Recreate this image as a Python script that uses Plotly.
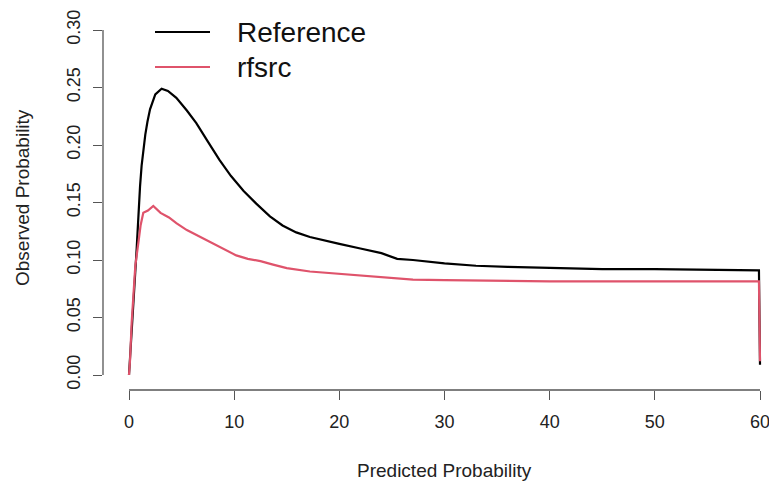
import plotly.graph_objects as go

# ---- data ----
ref_x = [0, 0.3, 0.5, 0.73, 0.88, 1.05, 1.2, 1.36, 1.55, 1.75, 2.0, 2.5, 3.1, 3.7, 4.5, 5.5,
         6.4, 7.5, 8.6, 9.7, 10.9, 12.1, 13.4, 14.6, 15.9, 17.2, 18.5, 20, 22, 24, 25.5, 27,
         30, 33, 36, 40, 45, 50, 55, 59.9, 60]
ref_y = [0, 0.04, 0.075, 0.11, 0.140, 0.164, 0.182, 0.196, 0.209, 0.220, 0.231, 0.244, 0.249,
         0.247, 0.241, 0.230, 0.219, 0.203, 0.187, 0.173, 0.160, 0.149, 0.138, 0.130, 0.124,
         0.120, 0.117, 0.114, 0.110, 0.106, 0.101, 0.100, 0.097, 0.095, 0.094, 0.093, 0.092,
         0.092, 0.0915, 0.091, 0.009]

rf_x = [0, 0.1, 0.25, 0.41, 0.6, 0.89, 1.1, 1.36, 1.8, 2.31, 3.0, 3.8, 4.5, 5.5, 6.6, 7.7, 9.0,
        10.2, 11.3, 12.5, 13.7, 15, 17.2, 20, 23, 25, 27, 30, 35, 40, 50, 59.9, 60]
rf_y = [0, 0.013, 0.045, 0.071, 0.095, 0.115, 0.130, 0.141, 0.143, 0.147, 0.141, 0.137, 0.132,
        0.126, 0.121, 0.116, 0.110, 0.104, 0.101, 0.099, 0.096, 0.093, 0.090, 0.088, 0.086,
        0.085, 0.083, 0.0825, 0.082, 0.0815, 0.0815, 0.0815, 0.012]

series_names = ["Reference", "rfsrc"]
series_colors = ["#000000", "#DF536B"]

x_ticks = [0, 10, 20, 30, 40, 50, 60]
y_ticks = [0.00, 0.05, 0.10, 0.15, 0.20, 0.25, 0.30]
y_tick_text = ["0.00", "0.05", "0.10", "0.15", "0.20", "0.25", "0.30"]

x_title = "Predicted Probability"
y_title = "Observed Probability"

# ---- layout geometry (pixels) ----
W, H = 769, 481
L, R, T, B = 103, 0, 15, 91
pw, ph = W - L - R, H - T - B


def px_to_paper_x(px):
    return (px - L) / pw


def py_to_paper_y(py):
    return (H - B - py) / ph


FONT = "Liberation Sans, Arial, Helvetica, sans-serif"
AXIS_COL = "#555555"

fig = go.Figure()
fig.add_trace(go.Scatter(x=ref_x, y=ref_y, mode="lines", name=series_names[0],
                         line=dict(color=series_colors[0], width=2.2), showlegend=False))
fig.add_trace(go.Scatter(x=rf_x, y=rf_y, mode="lines", name=series_names[1],
                         line=dict(color=series_colors[1], width=2.2), showlegend=False))

# R-style axis lines spanning first to last tick
fig.add_shape(type="line", xref="x", yref="paper", x0=x_ticks[0], x1=x_ticks[-1], y0=0, y1=0,
              line=dict(color=AXIS_COL, width=1.3))
fig.add_shape(type="line", xref="paper", yref="y", x0=0, x1=0, y0=y_ticks[0], y1=y_ticks[-1],
              line=dict(color=AXIS_COL, width=1.3))

# legend drawn R-style
leg_y = [32, 67]
for name, col, yy in zip(series_names, series_colors, leg_y):
    fig.add_shape(type="line", xref="paper", yref="paper",
                  x0=px_to_paper_x(155), x1=px_to_paper_x(210),
                  y0=py_to_paper_y(yy), y1=py_to_paper_y(yy),
                  line=dict(color=col, width=2.2))
    fig.add_annotation(xref="paper", yref="paper", x=px_to_paper_x(235), y=py_to_paper_y(yy),
                       xanchor="left", yanchor="middle", text=name, showarrow=False,
                       font=dict(family=FONT, size=28, color="#111111"))

# axis titles
fig.add_annotation(xref="x", yref="paper", x=30, y=0, xanchor="center", yanchor="top",
                   yshift=-68, text=x_title, showarrow=False,
                   font=dict(family=FONT, size=19, color="#222222"))
fig.add_annotation(xref="paper", yref="paper", x=0, y=py_to_paper_y(198), xanchor="center",
                   yanchor="middle", xshift=-81, textangle=-90, text=y_title, showarrow=False,
                   font=dict(family=FONT, size=19, color="#222222"))

xr0 = -(129 - L) / (631 / 60)
xr1 = 60 + (W - R - 760) / (631 / 60)
yr0 = -(H - B - 375) / (345 / 0.30)
yr1 = 0.30 + (30 - T) / (345 / 0.30)

fig.update_layout(
    width=W, height=H,
    margin=dict(l=L, r=R, t=T, b=B, pad=0),
    plot_bgcolor="white", paper_bgcolor="white",
    font=dict(family=FONT, size=18, color="#222222"),
    xaxis=dict(range=[xr0, xr1], tickvals=x_ticks, ticktext=[str(v) for v in x_ticks],
               ticks="outside", ticklen=9, tickwidth=1.3, tickcolor=AXIS_COL,
               showgrid=False, zeroline=False, showline=False, ticklabeloverflow="allow",
               ticklabelstandoff=6, tickfont=dict(size=18, family=FONT, color="#222222")),
    yaxis=dict(range=[yr0, yr1], tickvals=y_ticks, ticktext=y_tick_text,
               ticks="outside", ticklen=9, tickwidth=1.3, tickcolor=AXIS_COL,
               showgrid=False, zeroline=False, showline=False, tickangle=-90,
               ticklabelstandoff=6, tickfont=dict(size=18, family=FONT, color="#222222")),
)

fig.write_html("out.html")
